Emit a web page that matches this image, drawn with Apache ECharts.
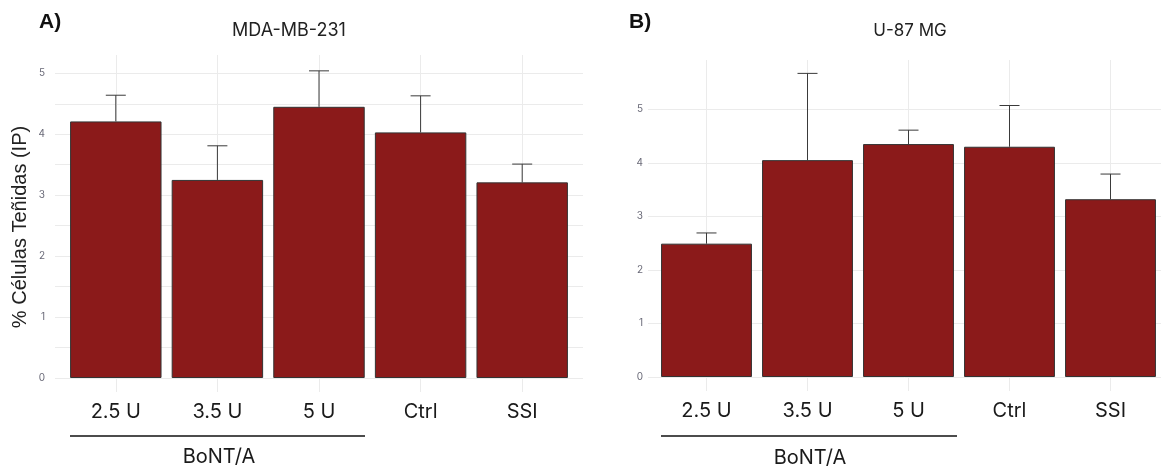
<!DOCTYPE html>
<html>
<head>
<meta charset="utf-8">
<script src="https://cdn.jsdelivr.net/npm/echarts@6/dist/echarts.min.js"></script>
<style>
	html, body { margin: 0; padding: 0; background: #fff; }
	#mychart { width: 1161px; height: 469px; }
</style>
</head>
<body>
<div id="mychart"></div>
<script>
// datos
var categorias = ['2.5 U', '3.5 U', '5 U', 'Ctrl', 'SSI'];
var mdaMedia = [4.21, 3.25, 4.45, 4.03, 3.21];
var mdaSup = [4.64, 3.81, 5.04, 4.63, 3.51];   // extremo superior de la barra de error
var u87Media = [2.49, 4.05, 4.35, 4.30, 3.32];
var u87Sup = [2.69, 5.67, 4.61, 5.07, 3.79];

var rojo = '#8B1A1A';
var gris = '#ebebeb';
var fuente = 'Inter, "Noto Sans", sans-serif';
var arial = '"Liberation Sans", Arial, sans-serif';

// barra de error: solo el bigote superior con su remate
function errorItem(params, api) {
	var top = api.coord([api.value(0), api.value(2)]);
	var base = api.coord([api.value(0), api.value(1)]);
	var w = 10;
	return {
		type: 'group',
		children: [{
			type: 'line',
			shape: { x1: base[0], y1: base[1], x2: top[0], y2: top[1] },
			style: { stroke: '#3a3a3a', lineWidth: 1 }
		}, {
			type: 'line',
			shape: { x1: top[0] - w, y1: top[1], x2: top[0] + w, y2: top[1] },
			style: { stroke: '#3a3a3a', lineWidth: 1 }
		}]
	};
}

function errData(media, sup) {
	var out = [];
	for(var i = 0; i < media.length; i++) {
		out.push([i, media[i], sup[i]]);
	}
	return out;
}

var myChart = echarts.init(document.getElementById('mychart'));

var option = {
	animation: false,
	backgroundColor: '#fff',
	textStyle: { fontFamily: fuente },
	title: [
		{ text: 'A)', left: 34, top: 7, textStyle: { fontSize: 21, fontWeight: 'bold', color: '#111', fontFamily: arial } },
		{ text: 'MDA-MB-231', left: 284, top: 17, textAlign: 'center', textStyle: { fontSize: 18, fontWeight: 'normal', color: '#222' } },
		{ text: 'B)', left: 624, top: 7, textStyle: { fontSize: 21, fontWeight: 'bold', color: '#111', fontFamily: arial } },
		{ text: 'U-87 MG', left: 905, top: 17, textAlign: 'center', textStyle: { fontSize: 17, fontWeight: 'normal', color: '#222' } }
	],
	grid: [
		// marco ancho para las lineas horizontales
		{ left: 55, width: 528, top: 55, height: 323 },
		// area de barras
		{ left: 65, width: 508, top: 55, height: 323 },
		{ left: 648, width: 529, top: 60, height: 317 },
		{ left: 656, width: 510, top: 60, height: 317 }
	],
	xAxis: [
		{ gridIndex: 0, type: 'value', min: 0, max: 1, show: false },
		{
			gridIndex: 1, type: 'category', data: categorias,
			axisLine: { show: false },
			axisTick: { show: true, alignWithLabel: true, length: 14, lineStyle: { color: gris } },
			splitLine: { show: true, alignWithLabel: true, lineStyle: { color: gris } },
			axisLabel: { fontSize: 20, color: '#1a1a1a', margin: 24 }
		},
		{ gridIndex: 2, type: 'value', min: 0, max: 1, show: false },
		{
			gridIndex: 3, type: 'category', data: categorias,
			axisLine: { show: false },
			axisTick: { show: true, alignWithLabel: true, length: 14, lineStyle: { color: gris } },
			splitLine: { show: true, alignWithLabel: true, lineStyle: { color: gris } },
			axisLabel: { fontSize: 20, color: '#1a1a1a', margin: 24 }
		}
	],
	yAxis: [
		{
			gridIndex: 0, type: 'value', min: 0, max: 5.3, interval: 0.5,
			axisLine: { show: false }, axisTick: { show: false },
			splitLine: { show: true, showMaxLine: false, lineStyle: { color: gris } },
			axisLabel: {
				fontSize: 10, color: '#6a6a78', margin: 10,
				formatter: function(v) { return (v % 1 === 0 && v <= 5) ? v : ''; }
			}
		},
		{ gridIndex: 1, type: 'value', min: 0, max: 5.3, show: false },
		{
			gridIndex: 2, type: 'value', min: 0, max: 5.92, interval: 1,
			axisLine: { show: false }, axisTick: { show: false },
			splitLine: { show: true, showMaxLine: false, lineStyle: { color: gris } },
			axisLabel: {
				fontSize: 10, color: '#6a6a78', margin: 5,
				formatter: function(v) { return (v % 1 === 0 && v <= 5) ? v : ''; }
			}
		},
		{ gridIndex: 3, type: 'value', min: 0, max: 5.92, show: false }
	],
	graphic: [
		// titulo del eje y
		{ type: 'text', x: 20, y: 227, rotation: Math.PI / 2, style: { text: '% Células Teñidas (IP)', fontSize: 20, fontFamily: arial, fill: '#222', textAlign: 'center', textVerticalAlign: 'middle' } },
		// corchete BoNT/A bajo las tres dosis
		{ type: 'line', shape: { x1: 70, y1: 436, x2: 365, y2: 436 }, style: { stroke: '#111', lineWidth: 1.5 } },
		{ type: 'text', x: 219, y: 457, style: { text: 'BoNT/A', fontSize: 20, fontFamily: fuente, fill: '#1a1a1a', textAlign: 'center', textVerticalAlign: 'middle' } },
		{ type: 'line', shape: { x1: 661, y1: 436, x2: 957, y2: 436 }, style: { stroke: '#111', lineWidth: 1.5 } },
		{ type: 'text', x: 810, y: 458, style: { text: 'BoNT/A', fontSize: 20, fontFamily: fuente, fill: '#1a1a1a', textAlign: 'center', textVerticalAlign: 'middle' } }
	],
	series: [
		{
			type: 'bar', xAxisIndex: 1, yAxisIndex: 1, data: mdaMedia,
			barCategoryGap: '10%',
			itemStyle: { color: rojo, borderColor: '#333', borderWidth: 1 }
		},
		{
			type: 'custom', xAxisIndex: 1, yAxisIndex: 1, renderItem: errorItem,
			data: errData(mdaMedia, mdaSup), z: 3
		},
		{
			type: 'bar', xAxisIndex: 3, yAxisIndex: 3, data: u87Media,
			barCategoryGap: '10%',
			itemStyle: { color: rojo, borderColor: '#333', borderWidth: 1 }
		},
		{
			type: 'custom', xAxisIndex: 3, yAxisIndex: 3, renderItem: errorItem,
			data: errData(u87Media, u87Sup), z: 3
		}
	]
};

myChart.setOption(option);
</script>
</body>
</html>
